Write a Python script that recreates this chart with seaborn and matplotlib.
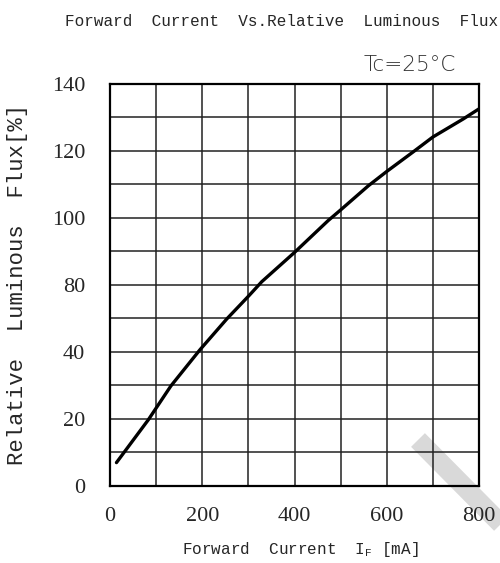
import numpy as np
import pandas as pd
import seaborn as sns
import matplotlib.pyplot as plt
from matplotlib.lines import Line2D

# curve (y in the axis' linear 0-140 scale)
current_ma = [14, 83, 132, 195, 253, 301, 329, 400, 473, 500, 560, 600, 658, 700, 766, 799]
rel_flux = [8.1, 23.0, 34.8, 47.4, 58.1, 66.2, 71.1, 81.3, 92.4, 96.1, 104.5, 109.5, 116.4, 121.5, 127.8, 131.2]

x_ticks = [0, 200, 400, 600, 800]
# the sheet labels its 6 equal y intervals like this (no "60")
y_ticklabels = ['0', '20', '40', '80', '100', '120', '140']

df = pd.DataFrame({'If': current_ma, 'flux': rel_flux})

sns.set_style("white")
plt.rcParams['font.family'] = ['Liberation Mono', 'DejaVu Sans']
plt.rcParams['mathtext.default'] = 'regular'

fig = plt.figure(figsize=(5, 5.63), dpi=100)
ax = fig.add_axes([0.22, 0.137, 0.738, 0.714])
ax.patch.set_alpha(0)

sns.lineplot(data=df, x='If', y='flux', ax=ax, color='black', linewidth=2.4, zorder=5)

ax.set_xlim(0, 800)
ax.set_ylim(0, 140)
ax.set_xticks(x_ticks)
ax.set_xticklabels([str(v) for v in x_ticks])
ax.set_xticks(np.arange(0, 801, 100), minor=True)
ax.set_yticks(np.linspace(0, 140, 7))
ax.set_yticklabels(y_ticklabels)
ax.set_yticks(np.linspace(0, 140, 13), minor=True)
ax.grid(True, which='both', color='#222222', linewidth=1.1)
ax.tick_params(which='both', length=0, labelsize=16, labelfontfamily='Liberation Serif')
ax.tick_params(axis='x', pad=15)
ax.tick_params(axis='y', pad=18)
for s in ax.spines.values():
    s.set_color('black')
    s.set_linewidth(1.6)

ax.set_xlabel(r'Forward  Current  I$_{F}$ [mA]', fontsize=11.5)
ax.set_ylabel('Relative  Luminous  Flux[%]', fontsize=16)
ax.xaxis.set_label_coords(0.515, -0.135)
ax.yaxis.set_label_coords(-0.222, 0.5)

fig.text(0.564, 0.961, 'Forward  Current  Vs.Relative  Luminous  Flux',
         ha='center', va='center', fontsize=11.5)
fig.text(0.82, 0.885, 'Tc=25°C', ha='center', va='center', fontsize=15.5,
         family='DejaVu Sans', fontweight='light', color='#333333')

# grey watermark stripe in the lower right corner
fig.add_artist(Line2D([418 / 500, 505 / 500], [1 - 440 / 563, 1 - 528 / 563],
                      transform=fig.transFigure, color='#d9d9d9', linewidth=14,
                      solid_capstyle='butt', zorder=0))

plt.savefig('out.png', dpi=100)
